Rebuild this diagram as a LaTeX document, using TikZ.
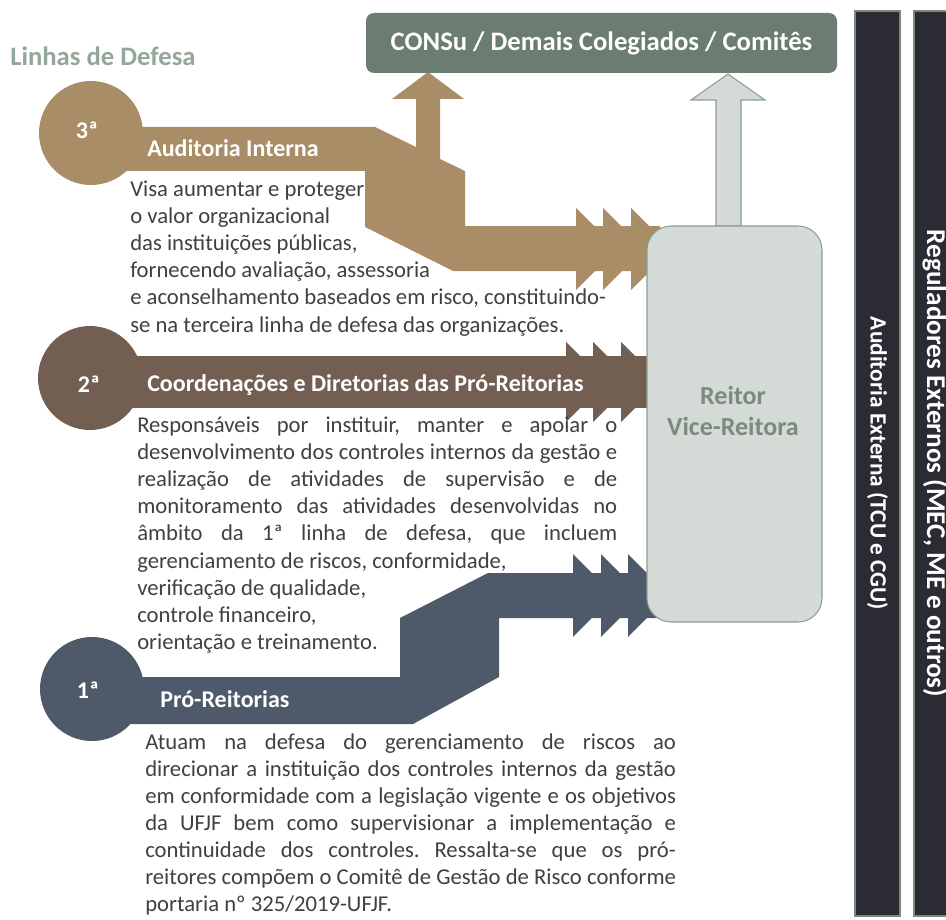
\documentclass[tikz,border=0pt]{standalone}
\usepackage{fontspec}
\setmainfont{Carlito}
\usepackage{xcolor}
\frenchspacing

\definecolor{linha3}{HTML}{A88D66}
\definecolor{linha2}{HTML}{725F52}
\definecolor{linha1}{HTML}{4E5A6A}
\definecolor{consu}{HTML}{6B7C70}
\definecolor{reitorfill}{HTML}{D4DAD6}
\definecolor{reitorline}{HTML}{8E9E92}
\definecolor{reitortext}{HTML}{7A8B7F}
\definecolor{titlegreen}{HTML}{93A89A}
\definecolor{bardark}{HTML}{2B2B34}
\definecolor{barline}{HTML}{7A8A80}
\definecolor{textgray}{HTML}{404040}

\newcommand{\jline}[2]{\hbox to #1pt{\spaceskip=\fontdimen2\font plus 1fil\xspaceskip=\spaceskip\relax #2}}

\begin{document}
\begin{tikzpicture}[x=0.75pt, y=-0.75pt,
  circ/.style = {circle, inner sep=0pt, minimum size=78pt},
  num/.style = {anchor=base, inner sep=0pt, text=white, font=\bfseries\fontsize{18}{21}\selectfont},
  lbl/.style = {anchor=base west, inner sep=0pt, text=white, font=\bfseries\fontsize{18}{21}\selectfont},
  txt/.style = {anchor=base west, inner sep=0pt, align=justify, text=textgray, font=\fontsize{17}{20.4}\selectfont},
  bar/.style = {draw=barline, line width=0.8pt, fill=bardark, rotate=-90, inner sep=0pt, text=white}]

\useasboundingbox (0,0) rectangle (946,920);

\node[anchor=base west, inner sep=0pt, text=titlegreen, font=\bfseries\fontsize{20}{24}\selectfont] (titulo) at (10,66) {Linhas de Defesa};

\fill[linha3] (91,127) -- (375,127) -- (416,147) -- (416,99) -- (392,99) -- (428,72) -- (464,99) -- (440,99) -- (440,159) -- (465,171) -- (465,226) -- (660,226) -- (660,271) -- (453,271) -- (365,227) -- (365,171) -- (91,171) -- cycle;
\foreach \x in {576,603,631}
  \fill[linha3] (\x,208) -- (\x+41,249) -- (\x,290) -- cycle;

\fill[linha2] (91,356) rectangle (660,408);
\foreach \x in {566,593,621}
  \fill[linha2] (\x,342) -- (\x+40,382) -- (\x,422) -- cycle;

\fill[linha1] (92,677) -- (400,677) -- (400,618) -- (488,573) -- (660,573) -- (660,618) -- (499,618) -- (499,677) -- (413,724) -- (92,724) -- cycle;
\foreach \x in {573,601,628}
  \fill[linha1] (\x,554) -- (\x+41,595.5) -- (\x,637) -- cycle;

\node[circ, fill=linha3] (c3) at (91,133) {};
\node[circ, fill=linha2] (c2) at (90,378) {};
\node[circ, fill=linha1] (c1) at (92,689) {};
\node[num] (n3) at (87,139) {3ª};
\node[num] (n2) at (89,392) {2ª};
\node[num] (n1) at (88,698) {1ª};

\node[lbl] (l3) at (147,157) {Auditoria Interna};
\node[lbl] (l2) at (147,391) {Coordenações e Diretorias das Pró-Reitorias};
\node[lbl] (l1) at (160,707) {Pró-Reitorias};

\node[txt, text width=360pt] (t3) at (130,196) {Visa aumentar e proteger\\
o valor organizacional\\
das instituições públicas,\\
fornecendo avaliação, assessoria\\
\jline{353}{e aconselhamento baseados em risco, constituindo-}\\
se na terceira linha de defesa das organizações.};

\node[txt, text width=370pt] (t2) at (137,432) {\jline{360}{Responsáveis por instituir, manter e apoiar o}\\
\jline{360}{desenvolvimento dos controles internos da gestão e}\\
\jline{360}{realização de atividades de supervisão e de}\\
\jline{360}{monitoramento das atividades desenvolvidas no}\\
\jline{360}{âmbito da 1ª linha de defesa, que incluem}\\
gerenciamento de riscos, conformidade,\\
verificação de qualidade,\\
controle financeiro,\\
orientação e treinamento.};

\node[txt, text width=405pt, font=\fontsize{17}{20.3}\selectfont] (t1) at (145,749) {\jline{398}{Atuam na defesa do gerenciamento de riscos ao}\\
\jline{398}{direcionar a instituição dos controles internos da gestão}\\
\jline{398}{em conformidade com a legislação vigente e os objetivos}\\
\jline{398}{da UFJF bem como supervisionar a implementação e}\\
\jline{398}{continuidade dos controles. Ressalta-se que os pró-}\\
\jline{398}{reitores compõem o Comitê de Gestão de Risco conforme}\\
portaria nº 325/2019-UFJF.};

\filldraw[fill=reitorfill, draw=reitorline, line width=0.8pt] (716,226) -- (716,100) -- (691,100) -- (728,74) -- (765,100) -- (741,100) -- (741,226) -- cycle;

\node[draw=reitorline, line width=0.8pt, fill=reitorfill, rounded corners=18pt, minimum width=131.25pt, minimum height=297pt, inner sep=0pt] (reitor) at (734.5,424) {};
\node[align=center, text=reitortext, font=\bfseries\fontsize{19.5}{23.25}\selectfont] (rtxt) at (733,411) {Reitor\\Vice-Reitora};

\node[fill=consu, rounded corners=6pt, minimum width=353.25pt, minimum height=45pt, inner sep=0pt, text=white, font=\bfseries\fontsize{20}{24}\selectfont] (consu) at (601.5,43) {CONSu / Demais Colegiados / Comitês};

\node[bar, minimum width=678.75pt, minimum height=33.75pt, font=\bfseries\fontsize{17.5}{21}\selectfont] (audext) at (877.5,463.5) {Auditoria Externa (TCU e CGU)};
\node[bar, minimum width=678.75pt, minimum height=31.5pt, font=\bfseries\fontsize{20.4}{24}\selectfont] (regext) at (935,463.5) {Reguladores Externos (MEC, ME e outros)};

\end{tikzpicture}
\end{document}
